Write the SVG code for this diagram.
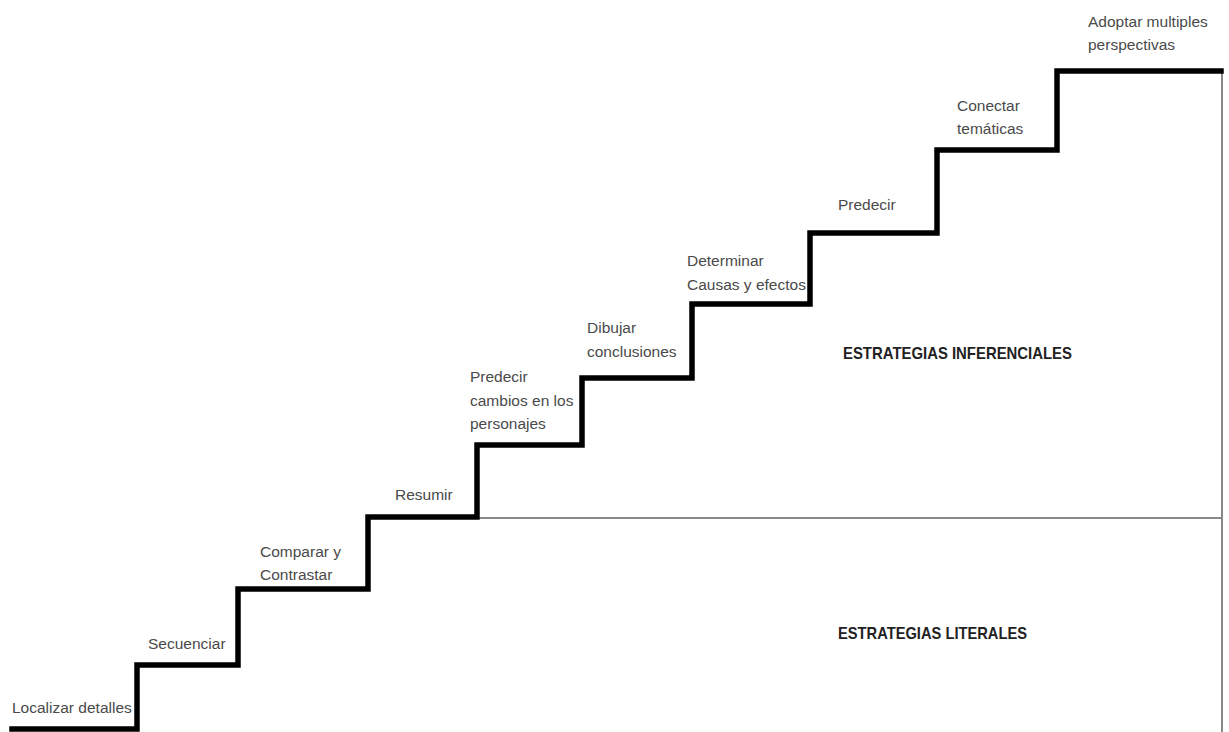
<svg xmlns="http://www.w3.org/2000/svg" width="1229" height="732" viewBox="0 0 1229 732">
<style>
.lbl{font-family:"Liberation Sans",Arial,sans-serif;font-size:15.5px;fill:#4a4a4a}
.hdr{font-family:"Liberation Sans",Arial,sans-serif;font-size:17px;font-weight:bold;fill:#222}
.stair{fill:none;stroke:#000;stroke-width:5.5;stroke-linejoin:miter;stroke-linecap:square}
.thin{fill:none;stroke:#888;stroke-width:2}
</style>
<rect width="1229" height="732" fill="#fff"/>
<g id="connectors">
<path class="thin" d="M478 518 H1222 M1222 71 V732"/>
<path class="stair" d="M12 729 H137 V665 H238 V589 H368 V517 H477 V445 H582 V378 H692 V304 H810 V233 H937 V150 H1057 V71 H1221"/>
</g>
<g id="n1"><text class="lbl" x="12" y="713">Localizar detalles</text></g>
<g id="n2"><text class="lbl" x="148" y="649">Secuenciar</text></g>
<g id="n3"><text class="lbl" x="260" y="557">Comparar y</text><text class="lbl" x="260" y="580">Contrastar</text></g>
<g id="n4"><text class="lbl" x="395" y="500">Resumir</text></g>
<g id="n5"><text class="lbl" x="470" y="382">Predecir</text><text class="lbl" x="470" y="406">cambios en los</text><text class="lbl" x="470" y="429">personajes</text></g>
<g id="n6"><text class="lbl" x="587" y="333">Dibujar</text><text class="lbl" x="587" y="357">conclusiones</text></g>
<g id="n7"><text class="lbl" x="687" y="266">Determinar</text><text class="lbl" x="687" y="290">Causas y efectos</text></g>
<g id="n8"><text class="lbl" x="838" y="210">Predecir</text></g>
<g id="n9"><text class="lbl" x="957" y="111">Conectar</text><text class="lbl" x="957" y="134">temáticas</text></g>
<g id="n10"><text class="lbl" x="1088" y="27">Adoptar multiples</text><text class="lbl" x="1088" y="50">perspectivas</text></g>
<g id="inferenciales"><text class="hdr" x="843" y="359" textLength="229" lengthAdjust="spacingAndGlyphs">ESTRATEGIAS INFERENCIALES</text></g>
<g id="literales"><text class="hdr" x="838" y="639" textLength="189" lengthAdjust="spacingAndGlyphs">ESTRATEGIAS LITERALES</text></g>
</svg>
